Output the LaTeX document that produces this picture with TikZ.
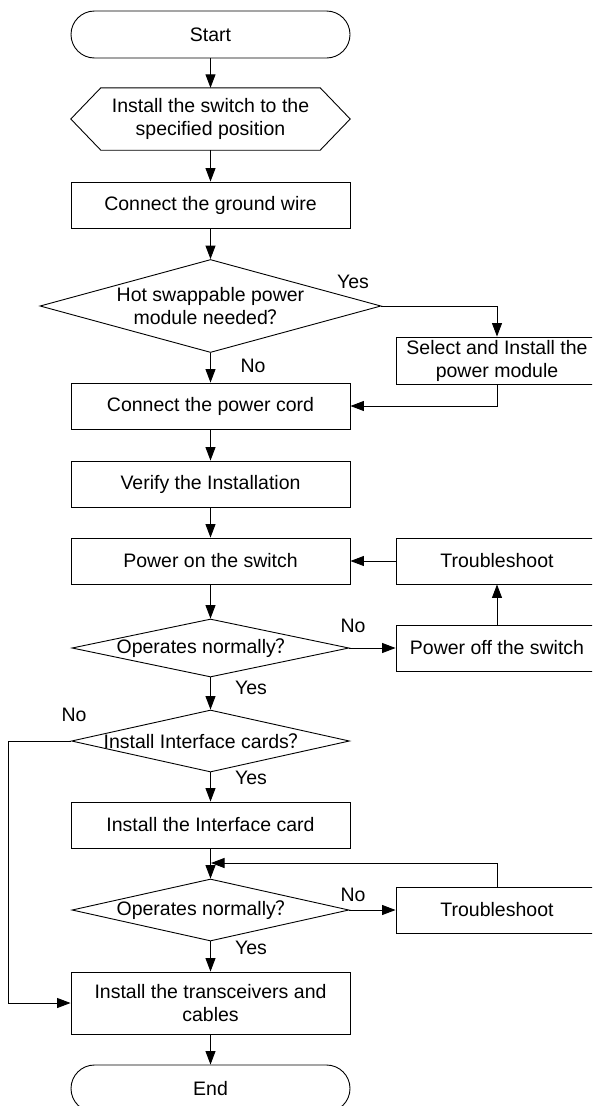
\documentclass[tikz,border=0pt]{standalone}
\usepackage{fontspec}
\setmainfont{Liberation Sans}
\newfontfamily\cjk{Noto Sans CJK SC}
\usetikzlibrary{arrows.meta,shapes.geometric}
\newcommand{\qm}{{\cjk ？}}
\begin{document}
\begin{tikzpicture}[x=1pt,y=-1pt,
  every node/.style={font=\fontsize{19.5}{23}\selectfont, inner sep=0pt},
  box/.style={draw, line width=0.9pt, minimum width=279pt, minimum height=46pt, align=center},
  sidebox/.style={draw, line width=0.9pt, minimum width=202pt, minimum height=46pt, align=center},
  term/.style={draw, line width=0.9pt, rounded corners=23.5pt, minimum width=279pt, minimum height=47pt},
  dia/.style={draw, line width=0.9pt, shape=diamond},
  plain/.style={draw=none, align=center},
  lbl/.style={draw=none},
  conn/.style={line width=0.9pt, -{Triangle[length=13.5pt,width=10pt]}},
  line/.style={line width=0.9pt}
]
\useasboundingbox (0,0) rectangle (592,1106);
\fill[white] (0,0) rectangle (592,1106);
\clip (0,0) rectangle (592,1106);

% main column
\node[term] (start) at (210.5,34.5) {Start};
\node[minimum width=279pt, minimum height=62pt, align=center] (hex) at (210.5,119) {Install the switch to the\\specified position};
\draw[line width=0.9pt] ([xshift=30pt]hex.north west) -- ([xshift=-30pt]hex.north east) -- (hex.east)
  -- ([xshift=-30pt]hex.south east) -- ([xshift=30pt]hex.south west) -- (hex.west) -- cycle;
\node[box] (ground) at (210.5,205) {Connect the ground wire};

\node[dia, minimum width=341pt, minimum height=93pt] (d1) at (210.5,306) {};
\node[plain] (d1t) at (210.5,306) {Hot swappable power\\module needed\qm};

\node[sidebox, minimum height=47pt] (select) at (497,360.5) {Select and Install the\\power module};
\node[box] (cord) at (210.5,406) {Connect the power cord};
\node[box] (verify) at (210.5,484) {Verify the Installation};
\node[box] (poweron) at (210.5,561) {Power on the switch};
\node[sidebox] (ts1) at (497,561) {Troubleshoot};

\node[dia, minimum width=277pt, minimum height=58pt] (d2) at (210.5,648) {};
\node[plain] (d2t) at (206,648) {Operates normally\qm};
\node[sidebox] (poweroff) at (497,648) {Power off the switch};

\node[dia, minimum width=278pt, minimum height=62pt] (d3) at (210.5,741) {};
\node[plain] (d3t) at (206,741) {Install Interface cards\qm};

\node[box] (card) at (210.5,825) {Install the Interface card};

\node[dia, minimum width=277pt, minimum height=62pt] (d4) at (210.5,910) {};
\node[plain] (d4t) at (206,910) {Operates normally\qm};
\node[sidebox] (ts2) at (497,910) {Troubleshoot};

\node[box, minimum height=62pt] (trans) at (210.5,1003) {Install the transceivers and\\cables};
\node[term] (end) at (210.5,1088.5) {End};

% labels
\node[lbl] (y1) at (353,282) {Yes};
\node[lbl] (n1) at (253,366) {No};
\node[lbl] (n2) at (353,626) {No};
\node[lbl] (y2) at (251,688) {Yes};
\node[lbl] (n3) at (74,715) {No};
\node[lbl] (y3) at (251,778) {Yes};
\node[lbl] (n4) at (353,895) {No};
\node[lbl] (y4) at (251,948) {Yes};

% connectors
\draw[conn] (start) -- (hex);
\draw[conn] (hex) -- (ground);
\draw[conn] (ground) -- (d1);
\draw[conn] (d1.east) -| (select.north);
\draw[conn] (d1.south) -- (cord.north);
\draw[conn] (select.south) |- (cord.east);
\draw[conn] (cord) -- (verify);
\draw[conn] (verify) -- (poweron);
\draw[conn] (ts1.west) -- (poweron.east);
\draw[conn] (poweron.south) -- (d2.north);
\draw[conn] (d2.east) -- (poweroff.west);
\draw[conn] (poweroff.north) -- (ts1.south);
\draw[conn] (d2.south) -- (d3.north);
\draw[conn] (d3.south) -- (card.north);
\coordinate (join) at (211,863);
\draw[conn] (card.south) -- (d4.north);
\draw[conn] (ts2.north) |- (join);
\draw[conn] (d4.east) -- (ts2.west);
\draw[conn] (d4.south) -- (trans.north);
\coordinate (lc1) at (8,741);
\coordinate (lc2) at (8,1003);
\draw[conn] (d3.west) -- (lc1) -- (lc2) -- (trans.west);
\draw[conn] (trans) -- (end);
\end{tikzpicture}
\end{document}
